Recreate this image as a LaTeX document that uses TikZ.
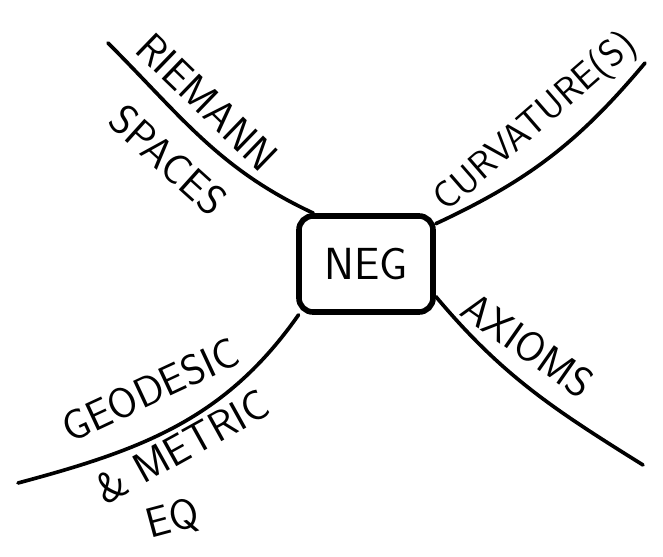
\documentclass[tikz,border=0pt]{standalone}
\usetikzlibrary{positioning}

\begin{document}
\begin{tikzpicture}[
        x=0.025cm, y=-0.025cm,
        hub/.style={
          draw,
          line width=4pt,
          rounded corners=10pt,
          minimum width=3.35cm,
          minimum height=2.4cm,
          font=\sffamily\fontsize{32}{38}\selectfont
        },
        branch/.style={line width=2.6pt, line cap=round},
        lbl/.style={inner sep=0pt, font=\sffamily\fontsize{30}{36}\selectfont}
      ]
        \useasboundingbox (0,0) rectangle (663,557);

        \node[hub] (neg) at (366,264) {NEG};

        \coordinate (riemannend) at (108,43);
        \coordinate (curvend) at (645,63);
        \coordinate (axiomsend) at (643,465);
        \coordinate (geodend) at (18,483);

        \node[lbl, rotate=-44] (riemann) at (207,102) {RIEMANN};
        \node[lbl, rotate=-42] (spaces) at (168,160) {SPACES};
        \node[lbl, rotate=41, font=\sffamily\fontsize{27}{32}\selectfont] (curv) at (536,123) {CURVATURE(S)};
        \node[lbl, rotate=-35] (axioms) at (528,345) {AXIOMS};
        \node[lbl, rotate=25] (geodesic) at (150,390) {GEODESIC};
        \node[lbl, rotate=29] (metric) at (182,447) {\& METRIC};
        \node[lbl, rotate=15] (eq) at (173,520) {EQ};

        \draw[branch] (neg.136) to[out=155, in=-45] (riemannend);
        \draw[branch] (neg.30) to[out=25, in=-130] (curvend);
        \draw[branch] (neg.-25) to[out=-50, in=148] (axiomsend);
        \draw[branch] (neg.217) to[out=-125, in=15] (geodend);

      \end{tikzpicture}
\end{document}
